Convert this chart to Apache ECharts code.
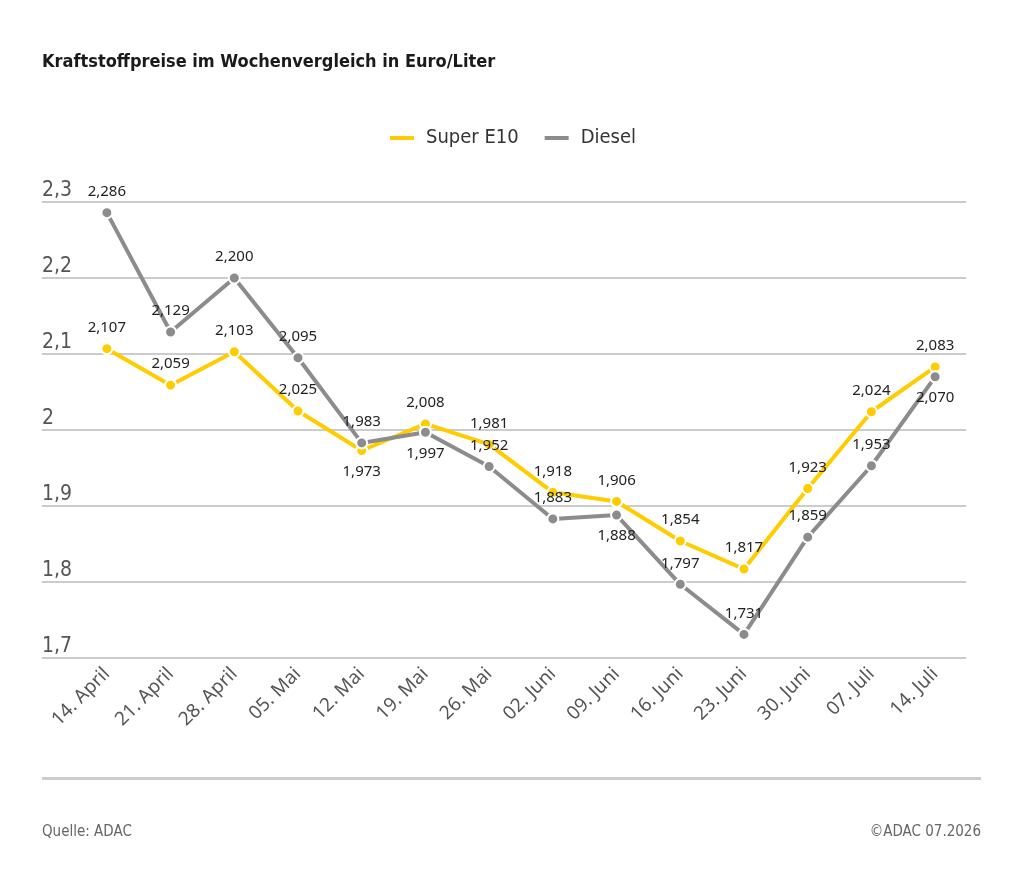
<!DOCTYPE html>
<html>

<head>
  <meta charset="utf-8">
  <title>Kraftstoffpreise</title>
  <script src="https://cdn.jsdelivr.net/npm/echarts@6.0.0/dist/echarts.min.js"></script>
  <style>
    html, body { margin: 0; padding: 0; background: #fff; }
  </style>
</head>

<body>
  <div id="main" style="width:1024px; height:892px;"></div>
  <script type="text/javascript">
    // values
    const weeks = ['14. April', '21. April', '28. April', '05. Mai', '12. Mai', '19. Mai', '26. Mai',
      '02. Juni', '09. Juni', '16. Juni', '23. Juni', '30. Juni', '07. Juli', '14. Juli'];
    const superE10 = [2.107, 2.059, 2.103, 2.025, 1.973, 2.008, 1.981, 1.918, 1.906, 1.854, 1.817, 1.923, 2.024, 2.083];
    const diesel = [2.286, 2.129, 2.200, 2.095, 1.983, 1.997, 1.952, 1.883, 1.888, 1.797, 1.731, 1.859, 1.953, 2.070];
    // indices whose value label sits under the point
    const e10Below = [4];
    const dieselBelow = [5, 8, 13];

    const yMin = 1.7, yMax = 2.3, yStep = 0.1;
    const YELLOW = '#ffcc00', GREY = '#8c8c8c';
    const font = '"Noto Sans", sans-serif';
    const narrow = '"Liberation Sans Narrow", "DejaVu Sans Condensed", sans-serif';

    const fmt = v => v.toFixed(3).replace('.', ',');

    const buildData = (values, below) => values.map((v, i) => ({
      value: v,
      label: { position: below.includes(i) ? 'bottom' : 'top' }
    }));

    const lineSeries = (name, color, values, below) => ({
      name,
      type: 'line',
      xAxisIndex: 1,
      yAxisIndex: 1,
      data: buildData(values, below),
      symbol: 'circle',
      symbolSize: 11,
      lineStyle: { color, width: 4 },
      itemStyle: { color, borderColor: '#fff', borderWidth: 2 },
      label: {
        show: true,
        distance: 7,
        fontFamily: font,
        fontSize: 15,
        color: '#222',
        formatter: p => fmt(p.value)
      },
      emphasis: { disabled: true }
    });

    const chart = echarts.init(document.getElementById('main'));

    chart.setOption({
      animation: false,
      backgroundColor: '#fff',
      title: {
        text: 'Kraftstoffpreise im Wochenvergleich in Euro/Liter',
        left: 42,
        top: 53,
        padding: 0,
        textStyle: { fontFamily: narrow, fontSize: 18, fontWeight: 'bold', color: '#1a1a1a' }
      },
      legend: {
        top: 123,
        left: 'center',
        itemWidth: 26,
        itemHeight: 6,
        itemGap: 24,
        icon: 'rect',
        textStyle: { fontFamily: narrow, fontSize: 20, color: '#333', padding: [0, 0, 0, 6] },
        data: ['Super E10', 'Diesel']
      },
      grid: [
        // grid 0 holds the full-width split lines and y labels
        { left: 42, right: 58, top: 202, height: 456 },
        // grid 1 holds the data
        { left: 75, right: 57, top: 202, height: 456 }
      ],
      xAxis: [
        { gridIndex: 0, type: 'category', data: weeks, show: false },
        {
          gridIndex: 1,
          type: 'category',
          data: weeks,
          boundaryGap: true,
          axisLine: { show: false },
          axisTick: { show: false },
          axisLabel: {
            rotate: 45,
            margin: 13,
            interval: 0,
            fontFamily: font,
            fontSize: 19,
            color: '#555'
          }
        }
      ],
      yAxis: [
        {
          gridIndex: 0,
          type: 'value',
          min: yMin,
          max: yMax,
          interval: yStep,
          axisLine: { show: false },
          axisTick: { show: false },
          splitLine: { lineStyle: { color: '#cccccc', width: 2 } },
          axisLabel: {
            inside: true,
            margin: 0,
            align: 'left',
            verticalAlign: 'bottom',
            padding: [0, 0, 1, 0],
            fontFamily: narrow,
            fontSize: 21,
            color: '#555',
            formatter: v => String(+v.toFixed(1)).replace('.', ',')
          }
        },
        { gridIndex: 1, type: 'value', min: yMin, max: yMax, interval: yStep, show: false }
      ],
      graphic: [
        {
          type: 'rect',
          shape: { x: 42, y: 777, width: 939, height: 3 },
          style: { fill: '#cccccc' }
        },
        {
          type: 'text',
          left: 42,
          top: 825,
          style: { text: 'Quelle: ADAC', font: '15px ' + narrow, fill: '#666' }
        },
        {
          type: 'text',
          right: 43,
          top: 825,
          style: { text: '©ADAC 07.2026', font: '15px ' + narrow, fill: '#666' }
        }
      ],
      series: [
        lineSeries('Super E10', YELLOW, superE10, e10Below),
        lineSeries('Diesel', GREY, diesel, dieselBelow)
      ]
    });
  </script>
</body>

</html>
